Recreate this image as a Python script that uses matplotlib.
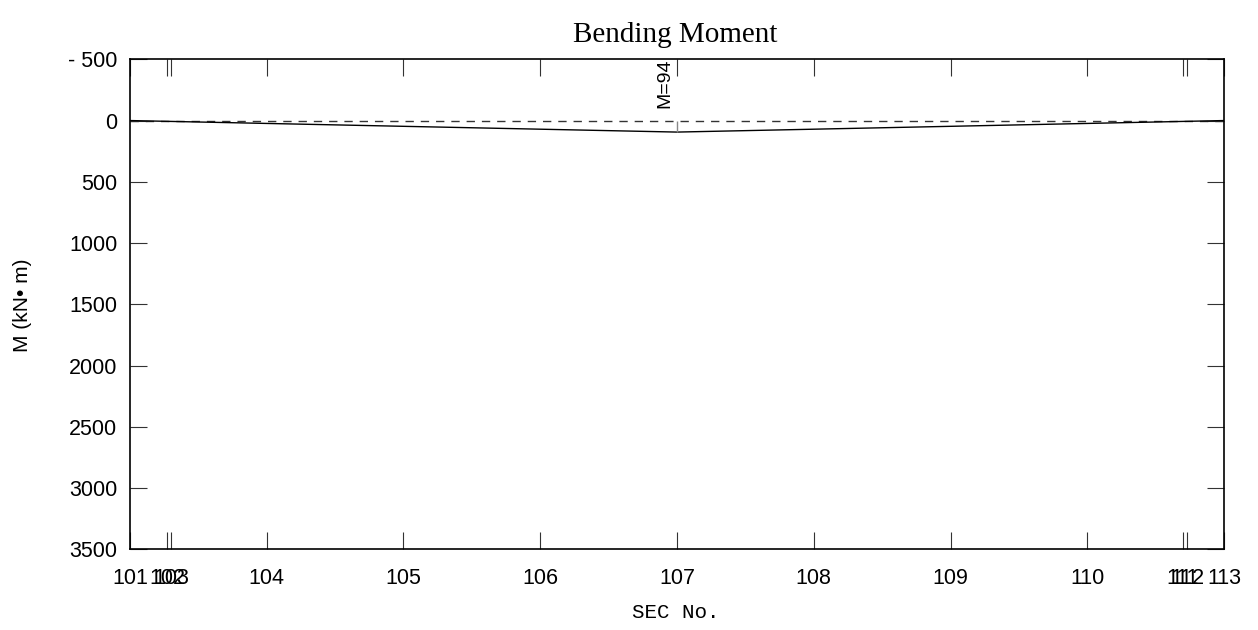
import matplotlib
matplotlib.use("Agg")
import matplotlib.pyplot as plt

sections = ["101", "102", "103", "104", "105", "106", "107", "108", "109", "110", "111", "112", "113"]
sec_pos = [0.0, 0.27, 0.30, 1.0, 2.0, 3.0, 4.0, 5.0, 6.0, 7.0, 7.70, 7.73, 8.0]
# Bending moment at each section (kN*m)
moment = [0.0, 6.3, 7.0, 23.5, 47.0, 70.5, 94.0, 70.5, 47.0, 23.5, 7.0, 6.3, 0.0]
y_ticks = [-500, 0, 500, 1000, 1500, 2000, 2500, 3000, 3500]
y_ticklabels = ["- 500", "0", "500", "1000", "1500", "2000", "2500", "3000", "3500"]
max_label = "M=94"
max_sec_index = 6

fig = plt.figure(figsize=(12.58, 6.30), dpi=100)
ax = fig.add_axes([0.1033, 0.1278, 0.973 - 0.1033, 0.9059 - 0.1278])

ax.axhline(0, color="#333333", lw=1.0, ls=(0, (6, 5)), zorder=1)
ax.plot(sec_pos, moment, color="black", lw=1.0, zorder=2)
ax.vlines(sec_pos[max_sec_index], 0, moment[max_sec_index], color="#888888", lw=1.0)

ax.set_xlim(sec_pos[0], sec_pos[-1])
ax.set_ylim(3500, -500)

sans = ["Liberation Sans", "DejaVu Sans"]
ax.set_xticks(sec_pos)
ax.set_xticklabels(sections, family=sans, fontsize=15.5)
ax.set_yticks(y_ticks)
ax.set_yticklabels(y_ticklabels, family=sans, fontsize=15.5)
ax.tick_params(axis="both", direction="in", length=12, width=0.8, color="#333333",
               top=True, right=True)
ax.tick_params(axis="x", pad=13)
ax.tick_params(axis="y", pad=9)

for s in ax.spines.values():
    s.set_linewidth(1.2)
    s.set_color("black")

ax.text(sec_pos[max_sec_index] - 0.09, -100, max_label, rotation=90, ha="center", va="bottom",
        family=sans, fontsize=14)

fig.text(0.537, 0.945, "Bending Moment", ha="center", va="center",
         family=["Liberation Serif", "DejaVu Serif"], fontsize=21)
fig.text(0.537, 0.028, "SEC No.", ha="center", va="center",
         family=["Liberation Mono", "DejaVu Sans Mono"], fontsize=15)
fig.text(0.018, 0.516, "M (kN\u2022 m)", ha="center", va="center", rotation=90,
         family=sans, fontsize=15)

fig.savefig("out.png", dpi=100)
